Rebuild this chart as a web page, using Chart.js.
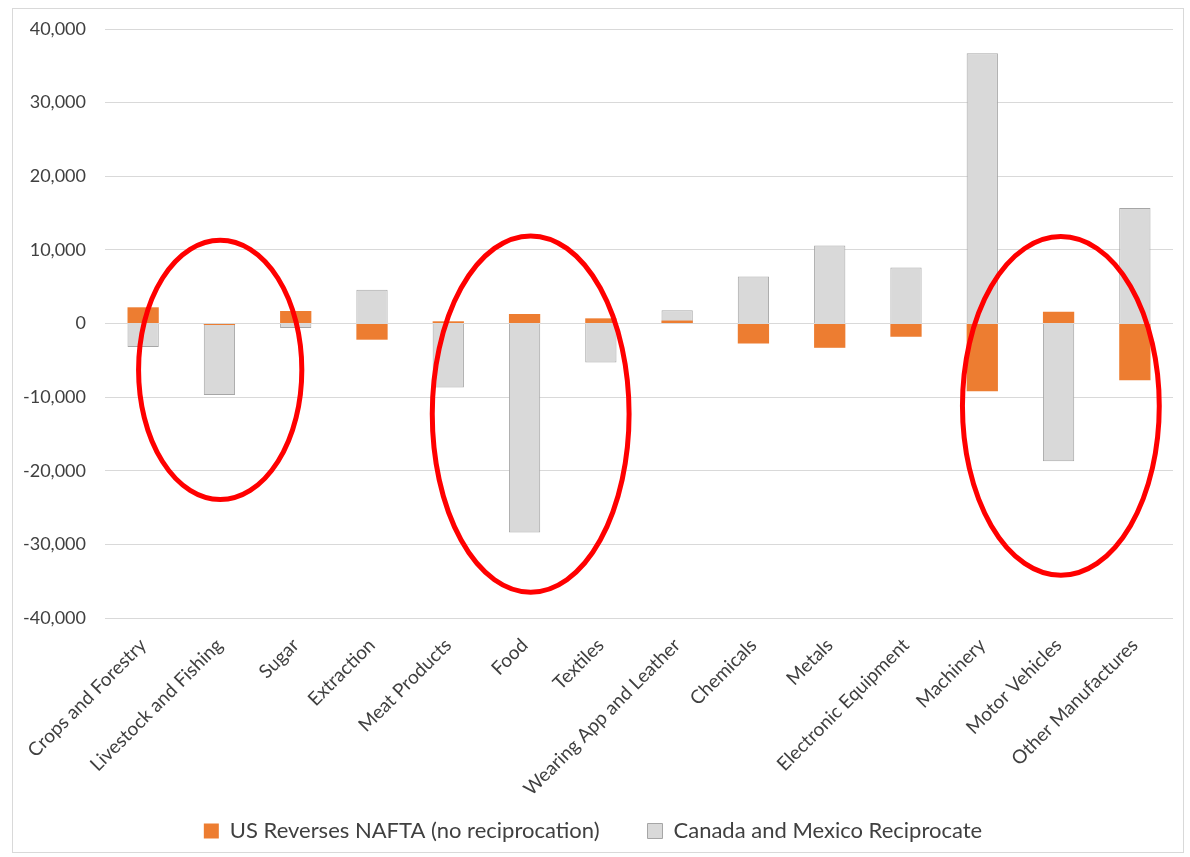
<!DOCTYPE html>
<html>
<head>
<meta charset="utf-8">
<script src="https://cdn.jsdelivr.net/npm/chart.js@4/dist/chart.umd.min.js"></script>
<style>
  html, body { margin: 0; padding: 0; background: #fff; }
  #frame {
    position: absolute; left: 12px; top: 8px;
    width: 1170px; height: 843px;
    border: 1px solid #d9d9d9;
  }
</style>
</head>
<body>
<div id="frame"><canvas id="barChart" width="1170" height="843"></canvas></div>
<script>
var sectors = ['Crops and Forestry', 'Livestock and Fishing', 'Sugar', 'Extraction', 'Meat Products',
    'Food', 'Textiles', 'Wearing App and Leather', 'Chemicals', 'Metals',
    'Electronic Equipment', 'Machinery', 'Motor Vehicles', 'Other Manufactures'];

var usReverses = [2200, -200, 1700, -2200, 300, 1300, 700, 400, -2700, -3300, -1800, -9200, 1600, -7700];
var reciprocate = [-3200, -9700, -600, 4600, -8700, -28400, -5300, 1800, 6400, 10600, 7600, 36700, -18700, 15700];

var yTicks = [-40000, -30000, -20000, -10000, 0, 10000, 20000, 30000, 40000];

// circled sectors: centre (category index, value) and radii (categories, value units)
var rings = [
    { cat: 1.01, val: -6300, rx: 1.07, ry: 17600 },
    { cat: 5.08, val: -12300, rx: 1.29, ry: 24200 },
    { cat: 12.03, val: -11200, rx: 1.29, ry: 23000 }
];

var ringPlugin = {
    id: 'rings',
    afterLayout: function (chart) {
        // long rotated labels run into the empty top of the legend box
        var xs = chart.scales.x;
        xs.bottom = xs.top + 200;
    },
    afterDatasetsDraw: function (chart) {
        var c = chart.ctx, xs = chart.scales.x, ys = chart.scales.y;
        var catW = xs.getPixelForValue(1) - xs.getPixelForValue(0);
        c.save();
        c.strokeStyle = '#ff0000';
        c.lineWidth = 5;
        rings.forEach(function (r) {
            var cx = xs.getPixelForValue(r.cat);
            var cy = ys.getPixelForValue(r.val);
            var ry = Math.abs(ys.getPixelForValue(r.val + r.ry) - cy);
            c.beginPath();
            c.ellipse(cx, cy, r.rx * catW, ry, 0, 0, Math.PI * 2);
            c.stroke();
        });
        c.restore();
    }
};

Chart.defaults.font.family = 'Lato, "Liberation Sans", sans-serif';
Chart.defaults.color = '#404040';

var ctx = document.getElementById('barChart').getContext('2d');

var barChart = new Chart(ctx, {
    type: 'bar',
    data: {
        labels: sectors,
        datasets: [{
            label: 'US Reverses NAFTA (no reciprocation)',
            data: usReverses,
            backgroundColor: '#ed7d31',
            borderWidth: 0
        }, {
            label: 'Canada and Mexico Reciprocate',
            data: reciprocate,
            backgroundColor: '#d9d9d9',
            borderColor: '#a6a6a6',
            borderWidth: 1
        }]
    },
    options: {
        responsive: false,
        animation: false,
        grouped: false,
        categoryPercentage: 1,
        barPercentage: 0.41,
        layout: { padding: { top: 20, right: 10, bottom: 0, left: 0 } },
        plugins: {
            tooltip: { enabled: false },
            legend: {
                position: 'bottom',
                labels: {
                    boxWidth: 15,
                    boxHeight: 15,
                    padding: 48,
                    font: { size: 22 },
                    color: '#404040'
                }
            }
        },
        scales: {
            x: {
                grid: { display: false },
                border: { display: false },
                ticks: {
                    minRotation: 45,
                    maxRotation: 45,
                    autoSkip: false,
                    padding: 8,
                    font: { size: 19 }
                },
                afterFit: function (scale) { scale.height = 154; }
            },
            y: {
                min: -40000,
                max: 40000,
                afterBuildTicks: function (scale) {
                    scale.ticks = yTicks.map(function (v) { return { value: v }; });
                },
                grid: { color: '#d9d9d9', drawTicks: false },
                border: { display: false },
                ticks: {
                    padding: 19,
                    font: { size: 18 },
                    callback: function (v) { return v.toLocaleString('en-US'); }
                },
                afterFit: function (scale) {
                    scale.width = 92;
                    scale.paddingTop = 0;
                    scale.paddingBottom = 0;
                }
            }
        }
    },
    plugins: [ringPlugin]
});
</script>
</body>
</html>
